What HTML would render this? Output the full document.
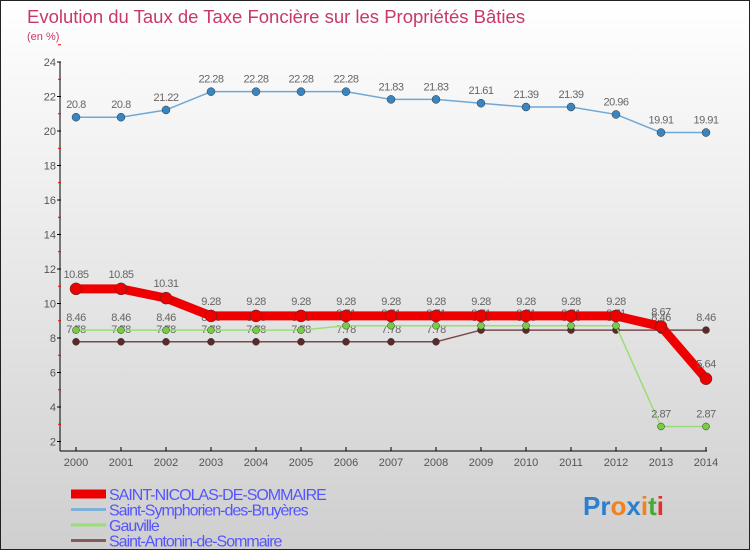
<!DOCTYPE html>
<html><head><meta charset="utf-8"><style>
body{margin:0;width:750px;height:550px;overflow:hidden;font-family:"Liberation Sans",sans-serif}
#wrap{position:relative;width:748px;height:548px;border:1px solid #222;background:linear-gradient(#ffffff 0%,#ececec 40%,#cfcfcf 100%)}
</style></head><body>
<div id="wrap">
<svg id="chart" width="748" height="548" style="position:absolute;left:0;top:0">
<text x="26" y="22" font-size="18.5" fill="#c8386a">Evolution du Taux de Taxe Foncière sur les Propriétés Bâties</text>
<text x="26" y="39" font-size="11" fill="#c8386a">(en %)</text>
</svg>
</div>
<script>
const years=[2000,2001,2002,2003,2004,2005,2006,2007,2008,2009,2010,2011,2012,2013,2014];
const yTicks=[2,4,6,8,10,12,14,16,18,20,22,24];
const nicolas=[10.85,10.85,10.31,9.28,9.28,9.28,9.28,9.28,9.28,9.28,9.28,9.28,9.28,8.67,5.64];
const symphorien=[20.8,20.8,21.22,22.28,22.28,22.28,22.28,21.83,21.83,21.61,21.39,21.39,20.96,19.91,19.91];
const gauville=[8.46,8.46,8.46,8.46,8.46,8.46,8.71,8.71,8.71,8.71,8.71,8.71,8.71,2.87,2.87];
const antonin=[7.78,7.78,7.78,7.78,7.78,7.78,7.78,7.78,7.78,8.46,8.46,8.46,8.46,8.46,8.46];
const seriesNames=["SAINT-NICOLAS-DE-SOMMAIRE","Saint-Symphorien-des-Bruyères","Gauville","Saint-Antonin-de-Sommaire"];

const svg=document.getElementById('chart');
const NS='http://www.w3.org/2000/svg';
const X0=75,XS=45,Y0=440.5,YS=17.25,YMIN=2;
const xf=i=>X0+i*XS;
const yf=v=>Y0-(v-YMIN)*YS;
function mk(t,a,p){const e=document.createElementNS(NS,t);for(const k in a)e.setAttribute(k,a[k]);(p||svg).appendChild(e);return e;}

let ax=mk('line',{x1:59,y1:yf(24),x2:59,y2:450,stroke:'#000','stroke-width':1});


ax=mk('line',{x1:59,y1:450,x2:xf(14)+1,y2:450,stroke:'#000','stroke-width':1});


yTicks.forEach(v=>{
 const t=mk('line',{x1:56,y1:yf(v),x2:60,y2:yf(v),stroke:'#000'});
 
 
 const m=mk('line',{x1:57,y1:yf(v+1),x2:60,y2:yf(v+1),stroke:'#e00'});
 
 
 const l=mk('text',{x:55,y:yf(v)+4,'text-anchor':'end','font-size':11,fill:'#555'});
 l.textContent=v;
 
 
});
years.forEach((yr,i)=>{
 const t=mk('line',{x1:xf(i),y1:446,x2:xf(i),y2:450,stroke:'#000'});
 
 
 const l=mk('text',{x:xf(i),y:465,'text-anchor':'middle','font-size':11,fill:'#555'});
 l.textContent=yr;
 
 
});

function series(data,color,dot,width,r,name,labelDy){
 const g=mk('g',{});
 
 
 const pl=mk('polyline',{points:data.map((v,i)=>xf(i)+','+yf(v)).join(' '),fill:'none',stroke:color,'stroke-width':width,'stroke-linejoin':'round'},g);
 
 
 data.forEach((v,i)=>{
  const c=mk('circle',{cx:xf(i),cy:yf(v),r:r,fill:dot,stroke:'#333','stroke-width':0.5},g);
  
  
  const l=mk('text',{x:xf(i),y:yf(v)+labelDy,'text-anchor':'middle','font-size':11,fill:'#666','letter-spacing':'-0.5'},g);
  l.textContent=v;
  
  
 });
}
series(symphorien,'#6fa8d6','#3a85c0',1.5,4,'saint-symphorien',-9);
series(antonin,'#7a4a4a','#5a2a2a',1.5,3.5,'saint-antonin',-9);
series(gauville,'#99dd77','#77cc44',1.5,3.5,'gauville',-9);
series(nicolas,'#ee0000','#ee0000',9,6,'saint-nicolas',-11);

const cols=['#ee0000','#7fb0d8','#99dd77','#8a5a5a'];
const widths=[9,3,3,3];
seriesNames.forEach((n,i)=>{
 const y=493+i*15.5;
 const ln=mk('line',{x1:70,y1:y,x2:105,y2:y,stroke:cols[i],'stroke-width':widths[i]});
 
 
 const t=mk('text',{x:108,y:y+6,'font-size':16,fill:'#5555ff','letter-spacing':'-1'});
 t.textContent=n;
 
 
});
const logo=mk('text',{x:582,y:514,'font-size':26,'font-weight':'bold'});


[['P','#2a7fcf'],['r','#2a7fcf'],['o','#f08020'],['x','#2a7fcf'],['i','#f08020'],['t','#44aa33'],['i','#e03030']].forEach(([c,f])=>{
 const s=mk('tspan',{fill:f},logo);s.textContent=c;
});
</script>
</body></html>
